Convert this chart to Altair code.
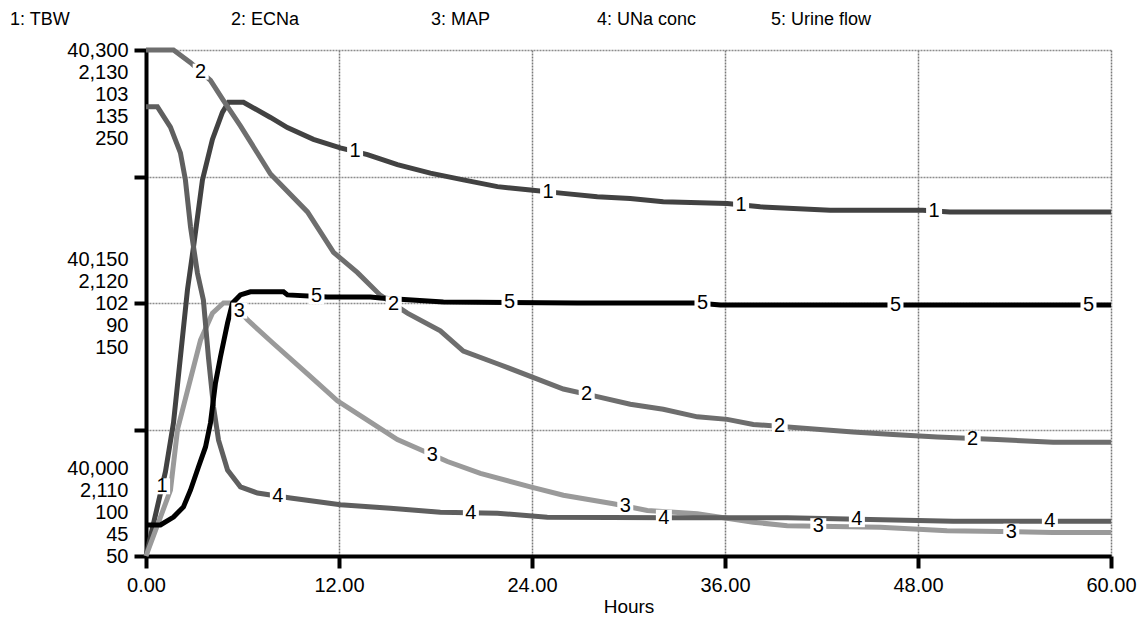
import altair as alt
import numpy as np
import pandas as pd

# ---------------- data ----------------
names = ["TBW", "ECNa", "MAP", "UNa conc", "Urine flow"]
lows = [40000, 2110, 100, 45, 50]
highs = [40300, 2130, 103, 135, 250]
top_labels = ["40,300", "2,130", "103", "135", "250"]
mid_labels = ["40,150", "2,120", "102", "90", "150"]
bot_labels = ["40,000", "2,110", "100", "45", "50"]
x_ticks = [0, 12, 24, 36, 48, 60]

tbw_t = [0, 1.21, 1.71, 2.14, 2.58, 2.95, 3.51, 4.13, 4.75, 5.13, 6.06, 7.74, 8.79, 10.41,
         12.08, 13.77, 15.63, 17.68, 19.73, 21.85, 23.9, 25.95, 28.06, 30.11, 32.16, 36.14,
         38.19, 42.54, 48.3, 49.98, 60]
tbw_v = [40000, 40050, 40079, 40118, 40158, 40183, 40223, 40247, 40263, 40269, 40269, 40260,
         40254, 40247, 40242, 40238, 40232, 40227, 40223, 40219, 40217, 40215, 40213, 40212,
         40210, 40209, 40207, 40205, 40205, 40204, 40204]

ecna_t = [0, 1.71, 2.77, 4.01, 4.82, 5.87, 7.74, 10.04, 11.66, 13.15, 14.58, 16.25, 18.3,
          19.73, 21.85, 23.9, 25.95, 28.06, 30.11, 32.16, 34.28, 36.14, 37.76, 41.92, 43.97,
          46.45, 49.2, 52.92, 56.4, 60]
ecna_v = [2130, 2130, 2129.5, 2128.8, 2128.0, 2127.0, 2125.1, 2123.6, 2122.0, 2121.2, 2120.3,
          2119.6, 2118.9, 2118.1, 2117.6, 2117.1, 2116.6, 2116.3, 2116.0, 2115.8, 2115.5,
          2115.4, 2115.2, 2115.0, 2114.9, 2114.8, 2114.7, 2114.6, 2114.5, 2114.5]

map_t = [0, 1.52, 1.96, 2.58, 3.39, 4.13, 4.82, 5.38, 6.31, 7.92, 10.04, 11.9, 13.52, 15.63,
         18.74, 20.79, 23.9, 25.95, 29.06, 31.17, 34.28, 35.71, 37.76, 39.87, 45.65, 49.81,
         56.4, 60]
map_v = [100, 100.39, 100.75, 100.98, 101.28, 101.44, 101.5, 101.5, 101.4, 101.26, 101.08,
         100.92, 100.82, 100.69, 100.56, 100.49, 100.41, 100.36, 100.31, 100.27, 100.25,
         100.23, 100.2, 100.18, 100.17, 100.15, 100.14, 100.14]

una_t = [0, 0.71, 1.52, 2.14, 2.45, 2.77, 3.2, 3.57, 3.88, 4.2, 4.51, 5.07, 5.87, 6.93, 8.98,
         12.09, 15.2, 18.3, 21.85, 24.95, 32.78, 39.87, 50.19, 60]
una_v = [124.9, 124.9, 121.3, 116.7, 111.9, 103.5, 95.3, 90.5, 80.4, 71.5, 65.6, 60.3, 57.3,
         56.2, 55.3, 54.1, 53.5, 52.8, 52.6, 51.9, 51.8, 51.8, 51.2, 51.2]

urine_t = [0, 0.9, 1.71, 2.33, 2.77, 3.26, 3.7, 4.01, 4.32, 4.63, 5.07, 5.38, 5.87, 6.49,
           8.55, 8.79, 11.28, 13.95, 14.58, 18.49, 26.82, 34.28, 35.71, 60]
urine_v = [62.3, 62.3, 65.4, 69.4, 76.1, 85.2, 93.1, 102.6, 118.4, 128.7, 142.1, 150.0, 153.2,
           154.4, 154.4, 153.2, 152.4, 152.4, 152.0, 150.4, 150.0, 150.0, 149.2, 149.2]

series_t = [tbw_t, ecna_t, map_t, una_t, urine_t]
series_v = [tbw_v, ecna_v, map_v, una_v, urine_v]

# ---------------- styling ----------------
W, H = 965, 506
FONT = "Liberation Sans"
FS = 18
AXFS = 20
LH = 22
colors = ["#424242", "#6e6e6e", "#9a9a9a", "#5f5f5f", "#000000"]
header_x = [-136, 85, 285, 451, 625]

xscale = alt.Scale(domain=[0, 60], nice=False, zero=False)


def yscale(i):
    return alt.Scale(domain=[lows[i], highs[i]], nice=False, zero=False)


def js_list(items):
    return "[" + ",".join("'" + s + "'" for s in items) + "]"


lo0, hi0 = lows[0], highs[0]
mid0 = (lo0 + hi0) / 2
label_expr = (
    f"datum.value == {hi0} ? {js_list(top_labels)} : "
    f"datum.value == {mid0} ? {js_list(mid_labels)} : "
    f"datum.value == {lo0} ? {js_list(bot_labels)} : ''"
)
n_lines = len(top_labels)

y_axis = alt.Axis(
    values=[lo0 + q * (hi0 - lo0) / 4 for q in range(5)],
    labelExpr=label_expr,
    labelBaseline="middle",
    labelLineHeight=LH,
    labelOffset={
        "condition": [
            {"test": f"datum.value == {mid0}", "value": -LH * (n_lines - 1) / 2},
            {"test": f"datum.value == {lo0}", "value": -LH * (n_lines - 1)},
        ],
        "value": 0,
    },
    labelOverlap=False,
    labelBound=False,
    labelFlush=False,
    labelPadding=6,
    tickSize=12,
    tickWidth=4,
    tickColor="black",
    domainColor="black",
    domainWidth=4,
    grid=True,
    gridColor="#8c8c8c",
    gridDash=[2, 1],
    gridWidth=1.5,
    title=None,
)

x_axis = alt.Axis(
    values=x_ticks,
    format=".2f",
    labelFlush=False,
    labelOverlap=False,
    labelPadding=7,
    tickSize=12,
    tickWidth=4,
    tickColor="black",
    domainColor="black",
    domainWidth=4,
    grid=True,
    gridColor="#7a7a7a",
    gridDash=[2, 1],
    gridWidth=1.5,
    title="Hours",
    titleFontWeight="normal",
    titleFontSize=19,
    titlePadding=2,
)

line_layers, box_layers, text_layers = [], [], []
for i in range(5):
    df = pd.DataFrame({"t": series_t[i], "v": series_v[i]})
    line_layers.append(
        alt.Chart(df).mark_line(color=colors[i], strokeWidth=5, strokeJoin="miter").encode(
            x=alt.X("t:Q", scale=xscale, axis=x_axis),
            y=alt.Y("v:Q", scale=yscale(i), axis=y_axis if i == 0 else None),
        )
    )
    lab_t = np.array([12 * j + 1.0 + 2.4 * i for j in range(5)])
    lab_v = np.interp(lab_t, series_t[i], series_v[i])
    ldf = pd.DataFrame({"t": lab_t, "v": lab_v, "txt": [str(i + 1)] * 5})
    box_layers.append(
        alt.Chart(ldf).mark_square(size=256, color="white", opacity=1, strokeWidth=0).encode(
            x=alt.X("t:Q", scale=xscale, axis=x_axis),
            y=alt.Y("v:Q", scale=yscale(i), axis=None),
        )
    )
    text_layers.append(
        alt.Chart(ldf).mark_text(font=FONT, fontSize=AXFS, color="black", baseline="middle",
                                 align="center").encode(
            x=alt.X("t:Q", scale=xscale, axis=x_axis),
            y=alt.Y("v:Q", scale=yscale(i), axis=None),
            text="txt:N",
        )
    )

header_layers = []
for i in range(5):
    hdf = pd.DataFrame({"label": [f"{i + 1}: {names[i]}"]})
    header_layers.append(
        alt.Chart(hdf).mark_text(font=FONT, fontSize=FS, color="black", align="left",
                                 baseline="middle").encode(
            x=alt.value(header_x[i]), y=alt.value(-30), text="label:N"
        )
    )

chart = (
    alt.layer(*line_layers, *box_layers, *text_layers, *header_layers)
    .resolve_scale(y="independent")
    .properties(
        width=W,
        height=H,
        autosize=alt.AutoSizeParams(type="none"),
        padding={"left": 146, "top": 50, "right": 32, "bottom": 63},
        background="white",
    )
    .configure_view(stroke=None)
    .configure_axis(labelFont=FONT, labelFontSize=AXFS, labelColor="black",
                    titleFont=FONT, titleColor="black")
)

chart.save("out.html", embed_options={"renderer": "svg", "actions": False})
